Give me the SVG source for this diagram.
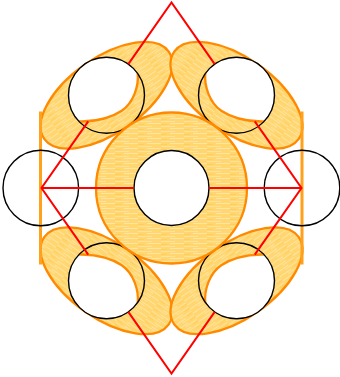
<svg xmlns="http://www.w3.org/2000/svg" xmlns:xlink="http://www.w3.org/1999/xlink" width="340" height="377" viewBox="0 0 340 377">
<style>
.fillo{fill:url(#tex);stroke:#FF8A00;stroke-width:2.3}
.hole{fill:#fff;stroke:none}
.arc{fill:none;stroke:#FF8A00;stroke-width:2.3}
.blk{fill:none;stroke:#000;stroke-width:1.4}
.bar{stroke:#FFA11A;stroke-width:3;fill:none}
.red{fill:none;stroke:#FF0000;stroke-width:2;stroke-linecap:butt;stroke-linejoin:miter}
</style>
<defs>
<pattern id="tex" width="23" height="5" patternUnits="userSpaceOnUse">
<rect width="23" height="5" fill="#FFD670"/>
<rect y="1" width="14" height="1" fill="#FFE29A"/>
<rect x="9" y="3" width="14" height="1" fill="#FFE5A3"/>
<rect x="0" y="4" width="6" height="1" fill="#FFCF5E"/>
</pattern>
<clipPath id="cc" clipPathUnits="userSpaceOnUse"><circle cx="106.5" cy="95.25" r="38"/></clipPath>
<g id="unit">
<ellipse class="fillo" cx="106.5" cy="95.25" rx="76" ry="37.5" transform="rotate(-35 106.5 95.25)"/>
<g clip-path="url(#cc)">
<path class="hole" d="M72,121.7 L82,121.5 C95,121.2 110.7,118.1 121.7,110.7 C133.7,102.6 138.9,85.5 137.7,73.5 L139,50 L60,50 L60,125 Z"/>
<path class="arc" d="M72,121.7 L82,121.5 C95,121.2 110.7,118.1 121.7,110.7 C133.7,102.6 138.9,85.5 137.7,73.5 L137,62"/>
</g>
<circle class="blk" cx="106.5" cy="95.25" r="38"/>
</g>
</defs>
<g id="node-top-left"><use xlink:href="#unit"/></g>
<g id="node-top-right"><use xlink:href="#unit" transform="matrix(-1 0 0 1 343 0)"/></g>
<g id="node-bottom-left"><use xlink:href="#unit" transform="matrix(1 0 0 -1 0 376)"/></g>
<g id="node-bottom-right"><use xlink:href="#unit" transform="matrix(-1 0 0 -1 343 376)"/></g>
<g id="node-center">
<circle class="fillo" cx="171.5" cy="188" r="75.5"/>
<circle cx="171.5" cy="188" r="37.5" fill="#fff" stroke="#000" stroke-width="1.4"/>
</g>
<g id="node-left">
<line class="bar" x1="40.5" y1="111.5" x2="40.5" y2="264.5"/>
<circle class="blk" cx="40.8" cy="188" r="37.8"/>
</g>
<g id="node-right">
<line class="bar" x1="302" y1="111.5" x2="302" y2="264.5"/>
<circle class="blk" cx="302" cy="188" r="37.8"/>
</g>
<g id="connectors">
<line class="red" x1="41.5" y1="188" x2="134" y2="188"/>
<line class="red" x1="209" y1="188" x2="301.5" y2="188"/>
<path class="red" d="M88.2,121.4 L41.5,188 L88.2,254.6"/>
<path class="red" d="M128.3,64.1 L171.5,2.5 L214.7,64.1"/>
<path class="red" d="M128.3,311.9 L171.5,373.5 L214.7,311.9"/>
<path class="red" d="M254.8,121.4 L301.5,188 L254.8,254.6"/>
</g>
</svg>
